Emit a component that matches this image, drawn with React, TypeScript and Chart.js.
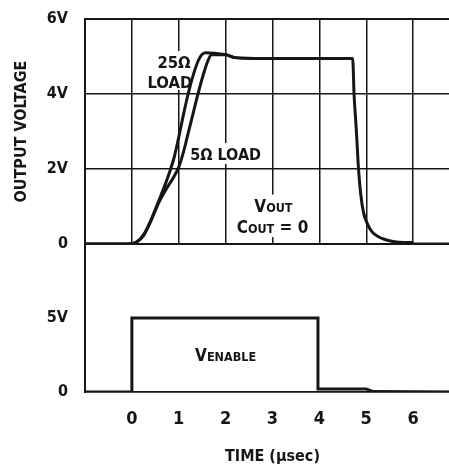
import React, { useEffect, useRef } from 'react';
import { Chart, registerables } from 'chart.js';

Chart.register(...registerables);

// ---------------- data ----------------
const load25Time = [-1, -0.1, 0.1, 0.25, 0.4, 0.58, 0.7, 0.8, 0.9, 1.0, 1.1, 1.2, 1.32, 1.42, 1.5, 1.58, 1.8, 2.0, 2.2, 2.6, 4.71, 4.74, 4.79, 4.835, 4.88, 4.94, 5.02, 5.12, 5.25, 5.4, 5.6, 5.8, 5.97, 6.0, 7];
const load25Volts = [0, 0, 0.05, 0.25, 0.62, 1.17, 1.55, 1.9, 2.3, 2.85, 3.45, 4.0, 4.55, 4.9, 5.06, 5.1, 5.08, 5.05, 4.97, 4.95, 4.95, 4.0, 3.0, 2.0, 1.35, 0.85, 0.55, 0.33, 0.2, 0.12, 0.06, 0.04, 0.04, 0, 0];

const load5Time = [-1, -0.1, 0.1, 0.25, 0.4, 0.58, 0.75, 0.9, 1.0, 1.1, 1.2, 1.3, 1.41, 1.52, 1.62, 1.7, 2.0, 2.2, 2.6];
const load5Volts = [0, 0, 0.05, 0.22, 0.6, 1.12, 1.5, 1.8, 2.05, 2.45, 2.95, 3.45, 4.0, 4.5, 4.88, 5.05, 5.05, 4.97, 4.95];

const enableTime = [-1, 0, 0, 3.97, 3.97, 5.0, 5.15, 7];
const enableVolts = [0, 0, 5, 5, 0.2, 0.2, 0.03, 0];

const timeTickValues = [0, 1, 2, 3, 4, 5, 6];
const timeTickLabels = ['0', '1', '2', '3', '4', '5', '6'];
const topTickValues = [0, 2, 4, 6];
const topTickLabels = ['0', '2V', '4V', '6V'];
const bottomTickValues = [0, 5];
const bottomTickLabels = ['0', '5V'];

// ---------------- styles ----------------
const FONT = '"DejaVu Sans Condensed", "Liberation Sans", sans-serif';
const INK = '#161616';

type Part = [string, number];
type Note = { t: number; v: number; parts: Part[]; padBottom?: number };

const topNotes: Note[] = [
  { t: 0.9, v: 4.69, parts: [['25Ω', 16.5]] },
  { t: 0.81, v: 4.16, parts: [['LOAD', 16.5]], padBottom: 2 },
  { t: 2.0, v: 2.24, parts: [['5Ω LOAD', 16]] },
  { t: 3.02, v: 0.85, parts: [['V', 17], ['OUT', 12.5]], padBottom: 7 },
  { t: 3.0, v: 0.29, parts: [['C', 17], ['OUT', 12.5], [' = 0', 17]] },
];
const bottomNotes: Note[] = [{ t: 2.0, v: 2.09, parts: [['V', 17], ['ENABLE', 12.5]] }];

const fontOf = (size: number) => `bold ${size}px ${FONT}`;

function measure(ctx: CanvasRenderingContext2D, n: Note) {
  let total = 0;
  const widths = n.parts.map(([txt, size]) => {
    ctx.font = fontOf(size);
    const w = ctx.measureText(txt).width;
    total += w;
    return w;
  });
  return { widths, total };
}

const notesPlugin = (notes: Note[]) => ({
  id: 'notes',
  beforeDatasetsDraw(chart: any) {
    const { ctx, scales } = chart;
    ctx.save();
    ctx.fillStyle = '#ffffff';
    for (const n of notes) {
      const { total } = measure(ctx, n);
      const cx = scales.x.getPixelForValue(n.t);
      const base = scales.y.getPixelForValue(n.v);
      const cap = Math.max(...n.parts.map((p) => p[1])) * 0.74;
      const pb = n.padBottom ?? 4;
      ctx.fillRect(cx - total / 2 - 4, base - cap - 5, total + 8, cap + 5 + pb);
    }
    ctx.restore();
  },
  afterDatasetsDraw(chart: any) {
    const { ctx, scales } = chart;
    ctx.save();
    ctx.fillStyle = INK;
    ctx.textBaseline = 'alphabetic';
    ctx.textAlign = 'left';
    for (const n of notes) {
      const { widths, total } = measure(ctx, n);
      let x = scales.x.getPixelForValue(n.t) - total / 2;
      const base = scales.y.getPixelForValue(n.v);
      n.parts.forEach(([txt, size], i) => {
        ctx.font = fontOf(size);
        ctx.fillText(txt, x, base);
        x += widths[i];
      });
    }
    ctx.restore();
  },
});

const pts = (xs: number[], ys: number[]) => xs.map((x, i) => ({ x, y: ys[i] }));

export default function App() {
  const topRef = useRef<HTMLCanvasElement>(null);
  const botRef = useRef<HTMLCanvasElement>(null);

  useEffect(() => {
    const topChart = new Chart(topRef.current as HTMLCanvasElement, {
      type: 'line',
      data: {
        datasets: [
          {
            data: pts(load25Time, load25Volts),
            borderColor: INK,
            borderWidth: 3,
            pointRadius: 0,
            fill: false,
            cubicInterpolationMode: 'monotone',
          },
          {
            data: pts(load5Time, load5Volts),
            borderColor: INK,
            borderWidth: 3,
            pointRadius: 0,
            fill: false,
            cubicInterpolationMode: 'monotone',
          },
        ],
      },
      options: {
        animation: false,
        responsive: false,
        events: [],
        layout: { padding: { top: 19, left: 0, right: 0, bottom: 0 } },
        plugins: { legend: { display: false }, tooltip: { enabled: false } },
        scales: {
          x: {
            type: 'linear',
            min: -1,
            max: 7,
            ticks: { display: false, stepSize: 1 },
            grid: { color: INK, lineWidth: 1.5, drawTicks: false },
            border: { color: INK, width: 2 },
            afterFit: (s: any) => {
              s.height = 18;
            },
          },
          y: {
            type: 'linear',
            min: 0,
            max: 6,
            afterBuildTicks: (s: any) => {
              s.ticks = topTickValues.map((v) => ({ value: v }));
            },
            ticks: {
              callback: (v: any) => topTickLabels[topTickValues.indexOf(Number(v))] ?? '',
              color: INK,
              font: { family: FONT, size: 16, weight: 'bold' },
              padding: 17,
            },
            grid: {
              color: INK,
              lineWidth: (c: any) => (c.tick && c.tick.value === 6 ? 2 : 1.5),
              drawTicks: false,
            },
            border: { color: INK, width: 2 },
            title: {
              display: true,
              text: 'OUTPUT VOLTAGE',
              color: INK,
              font: { family: FONT, size: 16, weight: 'bold' },
              padding: { top: 12, bottom: 0 },
            },
            afterFit: (s: any) => {
              s.width = 85;
              s.paddingTop = 0;
              s.paddingBottom = 0;
            },
          },
        },
      } as any,
      plugins: [notesPlugin(topNotes)],
    });

    const botChart = new Chart(botRef.current as HTMLCanvasElement, {
      type: 'line',
      data: {
        datasets: [
          {
            data: pts(enableTime, enableVolts),
            borderColor: INK,
            borderWidth: 3,
            pointRadius: 0,
            fill: false,
            tension: 0,
          },
        ],
      },
      options: {
        animation: false,
        responsive: false,
        events: [],
        layout: { padding: 0 },
        plugins: { legend: { display: false }, tooltip: { enabled: false } },
        scales: {
          x: {
            type: 'linear',
            min: -1,
            max: 7,
            afterBuildTicks: (s: any) => {
              s.ticks = timeTickValues.map((v) => ({ value: v }));
            },
            ticks: {
              callback: (v: any) => timeTickLabels[timeTickValues.indexOf(Number(v))] ?? '',
              color: INK,
              font: { family: FONT, size: 18, weight: 'bold' },
              padding: 17,
              maxRotation: 0,
              autoSkip: false,
            },
            grid: { display: false, drawTicks: false },
            border: { color: INK, width: 1.8 },
            title: {
              display: true,
              text: 'TIME (µsec)',
              color: INK,
              font: { family: FONT, size: 16, weight: 'bold' },
              padding: { top: 0, bottom: 1 },
            },
            afterFit: (s: any) => {
              s.height = 75;
            },
          },
          y: {
            type: 'linear',
            min: 0,
            max: 10,
            afterBuildTicks: (s: any) => {
              s.ticks = bottomTickValues.map((v) => ({ value: v }));
            },
            ticks: {
              callback: (v: any) => bottomTickLabels[bottomTickValues.indexOf(Number(v))] ?? '',
              color: INK,
              font: { family: FONT, size: 16, weight: 'bold' },
              padding: 17,
            },
            grid: { display: false, drawTicks: false },
            border: { color: INK, width: 2 },
            afterFit: (s: any) => {
              s.width = 85;
              s.paddingTop = 0;
              s.paddingBottom = 0;
            },
          },
        },
      } as any,
      plugins: [notesPlugin(bottomNotes)],
    });

    return () => {
      topChart.destroy();
      botChart.destroy();
    };
  }, []);

  return (
    <div
      style={{
        position: 'fixed',
        left: 0,
        top: 0,
        width: 449,
        height: 467,
        overflow: 'hidden',
        background: '#ffffff',
      }}
    >
      <canvas
        ref={topRef}
        width={460}
        height={262}
        style={{ position: 'absolute', left: 0, top: 0, width: 460, height: 262 }}
      />
      <canvas
        ref={botRef}
        width={460}
        height={223}
        style={{ position: 'absolute', left: 0, top: 244, width: 460, height: 223 }}
      />
    </div>
  );
}
